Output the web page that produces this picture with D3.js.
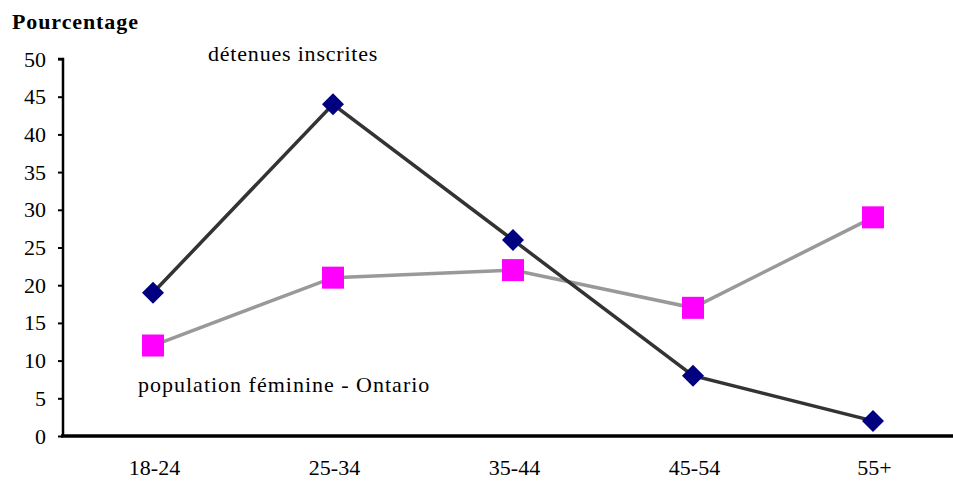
<!DOCTYPE html>
<html><head><meta charset="utf-8">
<script src="https://cdn.jsdelivr.net/npm/d3@7"></script>
<style>body{margin:0;background:#fff}svg{display:block}text{font-family:"Liberation Serif","Times New Roman",serif;fill:#000}</style>
</head><body><svg id="c" width="953" height="481"></svg>
<script>
const categories = ["18-24","25-34","35-44","45-54","55+"];
const detenues = [19,44,26,8,2];
const population = [12,21,22,17,29];
const yTicks = [0,5,10,15,20,25,30,35,40,45,50];

const svg = d3.select("#c");
const x = d3.scalePoint().domain(categories).range([153,873]);
const y = d3.scaleLinear().domain([0,50]).range([436,59]);

// y axis
const ya = svg.append("g").attr("transform","translate(63,0)")
  .call(d3.axisLeft(y).tickValues(yTicks).tickSize(5).tickPadding(12));
ya.select(".domain").attr("stroke","#000").attr("stroke-width",2.5).attr("d","M-5,59H0V436");
ya.selectAll(".tick line").attr("stroke","#000").attr("stroke-width",2);
ya.selectAll("text").style("font-size","22px").style("font-family","Liberation Serif");

// x axis
const xa = svg.append("g").attr("transform","translate(0,436)")
  .call(d3.axisBottom(x).tickSize(0).tickPadding(23));
xa.select(".domain").attr("stroke","#000").attr("stroke-width",3.5).attr("d","M61,0H953");
xa.selectAll("text").style("font-size","22px").style("font-family","Liberation Serif").attr("dx","1");

const line = d3.line().x((d,i)=>x(categories[i])).y(d=>y(d));
svg.append("path").datum(population).attr("d",line).attr("fill","none").attr("stroke","#999999").attr("stroke-width",3.5);
svg.append("path").datum(detenues).attr("d",line).attr("fill","none").attr("stroke","#333333").attr("stroke-width",3.5);

svg.selectAll(".sq").data(population).enter().append("rect")
  .attr("x",(d,i)=>x(categories[i])-11).attr("y",d=>y(d)-11)
  .attr("width",22).attr("height",22).attr("fill","#FF00FF");
svg.selectAll(".dm").data(detenues).enter().append("path")
  .attr("d",(d,i)=>{const cx=x(categories[i]),cy=y(d),r=11;return `M${cx},${cy-r}L${cx+r},${cy}L${cx},${cy+r}L${cx-r},${cy}Z`;})
  .attr("fill","#000080");

svg.append("text").attr("x",12).attr("y",29).style("font-size","22px").style("font-weight","bold").style("letter-spacing","0.9px").text("Pourcentage");
svg.append("text").attr("x",208).attr("y",61).style("font-size","22px").style("letter-spacing","0.8px").text("détenues inscrites");
svg.append("text").attr("x",138).attr("y",392).style("font-size","22px").style("letter-spacing","1px").text("population féminine - Ontario");
</script></body></html>
